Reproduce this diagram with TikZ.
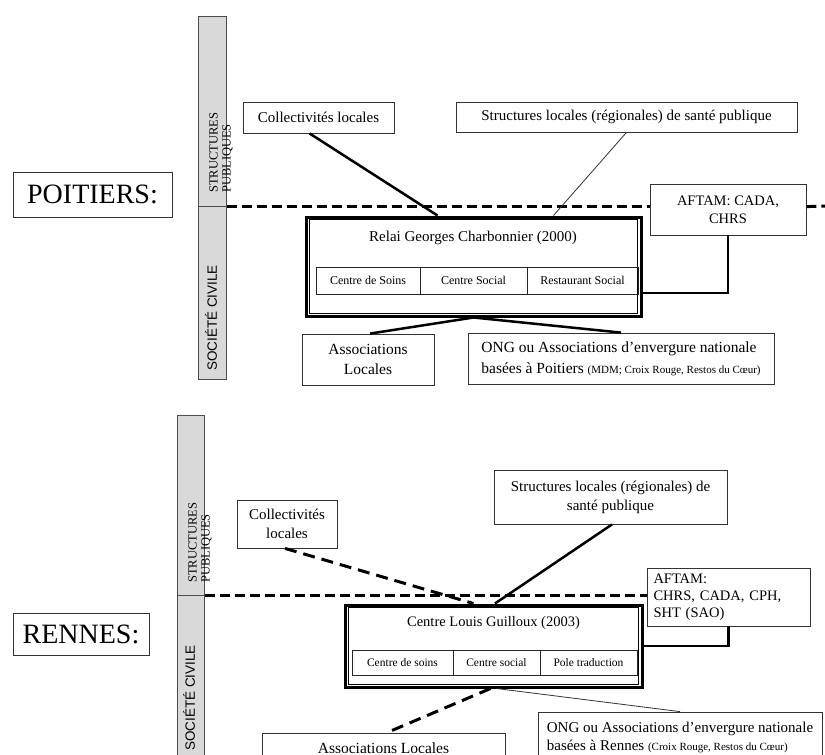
\documentclass[tikz,border=0pt]{standalone}
\usepackage{fontspec}
\setmainfont{Liberation Serif}
\newfontfamily\sansfam{Liberation Sans}
\tikzset{
  txtbox/.style={draw=black!80, line width=0.8pt, fill=white, align=center, inner sep=2pt, font=\fontsize{15}{19}\selectfont},
  citybox/.style={draw=black!80, line width=0.8pt, fill=white, font=\fontsize{28}{32}\selectfont},
  mainbox/.style={draw, line width=3pt, fill=white},
  cellbox/.style={draw=black!85, line width=0.8pt, inner sep=1pt, font=\fontsize{12}{14}\selectfont},
  bandbar/.style={draw=black!70, line width=0.6pt, fill=black!15, inner sep=0pt},
  bandtxt/.style={rotate=90, inner sep=0pt, align=left, font=\fontsize{12.5}{13}\selectfont},
  thicklink/.style={line width=2.5pt},
  thinlink/.style={line width=0.8pt, black!80},
  dashlink/.style={line width=3pt, dash pattern=on 12pt off 7pt},
  frontier/.style={line width=3pt, dash pattern=on 10pt off 5pt}
}
\begin{document}
\begin{tikzpicture}[x=1pt, y=-1pt]
\useasboundingbox (0,0) rectangle (825,755);
\clip (0,0) rectangle (825,755);
% ---------------- POITIERS ----------------
\node[citybox, minimum width=159pt, minimum height=45pt] (poitiers) at (92.5,194.5) {POITIERS:};
\node[bandbar, minimum width=28pt, minimum height=190pt, anchor=north west] (pubP) at (198,16) {}; %structures publiques
\node[bandbar, minimum width=28pt, minimum height=173pt, anchor=north west] (civP) at (198,206) {}; %societe civile
\node[bandtxt, anchor=west] (pubPtxt) at (221,193) {STRUCTURES\\PUBLIQUES};
\node[bandtxt, font=\sansfam\fontsize{13.5}{14}\selectfont] (civPtxt) at (211,318) {SOCIÉTÉ CIVILE};
\node[txtbox, minimum width=151pt, minimum height=31pt] (collP) at (318.5,117.5) {Collectivités locales};
\node[txtbox, minimum width=341pt, minimum height=30pt] (structP) at (626.5,117) {Structures locales (régionales) de santé publique};
\node[txtbox, font=\fontsize{14.5}{18}\selectfont, minimum width=156pt, minimum height=51pt] (aftamP) at (728,209.5) {AFTAM: CADA,\\CHRS};
\coordinate (edgeP) at (825,206);
\draw[frontier] (pubP.south east) -- (pubP.south east -| aftamP.west); %frontier
\draw[frontier] (pubP.south east -| aftamP.east) -- (edgeP);
\node[mainbox, minimum width=335pt, minimum height=99pt] (relai) at (473.5,266.5) {};
\draw[line width=0.8pt] ([shift={(5,4)}]relai.north west) rectangle ([shift={(-5,-4)}]relai.south east);
\node[font=\fontsize{15}{18}\selectfont] (relaiTitle) at (473,238) {Relai Georges Charbonnier (2000)};
\node[cellbox, minimum width=104pt, minimum height=27pt] (soinsP) at (368,280.5) {Centre de Soins};
\node[cellbox, minimum width=107pt, minimum height=27pt] (socialP) at (473.5,280.5) {Centre Social};
\node[cellbox, minimum width=111pt, minimum height=27pt] (restoP) at (582.5,280.5) {Restaurant Social};
\node[txtbox, font=\fontsize{15.5}{20}\selectfont, minimum width=132pt, minimum height=51pt] (assP) at (368,359.5) {Associations\\Locales};
\node[txtbox, font=\fontsize{15.5}{21}\selectfont, minimum width=306pt, minimum height=51pt, align=left] (ongP) at (621,358.5) {ONG ou Associations d’envergure nationale\\basées à Poitiers {\fontsize{11}{12}\selectfont(MDM; Croix Rouge, Restos du Cœur)}};
\draw[thicklink] ([xshift=-9pt]collP.south) -- ([xshift=-36pt]relai.north); %coll-relai
\draw[thinlink] (structP.south) -- ([xshift=80pt]relai.north); %struct-relai
\draw[thicklink] (aftamP.south) |- ([yshift=-26.5pt]relai.east); %aftam-relai
\draw[thicklink] (relai.south) -- ([xshift=2pt]assP.north); %relai-assoc
\draw[thicklink] (relai.south) -- (ongP.north); %relai-ong
% ---------------- RENNES ----------------
\node[citybox, minimum width=136pt, minimum height=42pt] (rennes) at (81,634) {RENNES:};
\node[bandbar, minimum width=27pt, minimum height=180pt, anchor=north west] (pubR) at (177,415) {}; %structures publiques
\node[bandbar, minimum width=27pt, minimum height=170pt, anchor=north west] (civR) at (177,595) {}; %societe civile
\node[bandtxt, anchor=west] (pubRtxt) at (200,583) {STRUCTURES\\PUBLIQUES};
\node[bandtxt, font=\sansfam\fontsize{13.5}{14}\selectfont] (civRtxt) at (189,698) {SOCIÉTÉ CIVILE};
\node[txtbox, minimum width=100pt, minimum height=48pt] (collR) at (287,524) {Collectivités\\locales};
\node[txtbox, minimum width=233pt, minimum height=54pt] (structR) at (610.5,497) {Structures locales (régionales) de\\santé publique};
\node[txtbox, font=\fontsize{14.5}{17}\selectfont, minimum width=163pt, minimum height=58pt, align=left, text width=150pt] (aftamR) at (728.5,597) {AFTAM:\\CHRS, CADA, CPH,\\SHT (SAO)};
\draw[frontier] (pubR.south east) -- (pubR.south east -| aftamR.west); %frontier
\node[mainbox, minimum width=297pt, minimum height=82pt] (centre) at (493.5,646) {};
\draw[line width=0.8pt] ([shift={(5,4)}]centre.north west) rectangle ([shift={(-5,-4)}]centre.south east);
\node[font=\fontsize{14.5}{17}\selectfont] (centreTitle) at (493.5,623) {Centre Louis Guilloux (2003)};
\node[cellbox, font=\fontsize{11.5}{13}\selectfont, minimum width=101pt, minimum height=25pt] (soinsR) at (402.5,662.5) {Centre de soins};
\node[cellbox, font=\fontsize{11.5}{13}\selectfont, minimum width=87pt, minimum height=25pt] (socialR) at (496.5,662.5) {Centre social};
\node[cellbox, font=\fontsize{11.5}{13}\selectfont, minimum width=97pt, minimum height=25pt] (tradR) at (588.5,662.5) {Pole traduction};
\node[txtbox, font=\fontsize{15.5}{20}\selectfont, minimum width=243pt, minimum height=30pt] (assR) at (383.5,748) {Associations Locales};
\node[txtbox, font=\fontsize{15}{18}\selectfont, minimum width=284pt, minimum height=50pt, align=left] (ongR) at (680,737) {ONG ou Associations d’envergure nationale\\basées à Rennes {\fontsize{11}{12}\selectfont(Croix Rouge, Restos du Cœur)}};
\draw[dashlink] ([xshift=-2pt]collR.south) -- ([xshift=-20pt]centre.north); %coll-centre
\draw[thicklink] ([xshift=1.5pt]structR.south) -- ([xshift=1.5pt]centre.north); %struct-centre
\draw[thicklink] (aftamR.south) |- (centre.east); %aftam-centre
\draw[dashlink] ([xshift=-3pt]centre.south) -- ([xshift=3.5pt]assR.north); %centre-assoc
\draw[thinlink] ([xshift=3pt]centre.south) -- (ongR.north); %centre-ong
\end{tikzpicture}
\end{document}
